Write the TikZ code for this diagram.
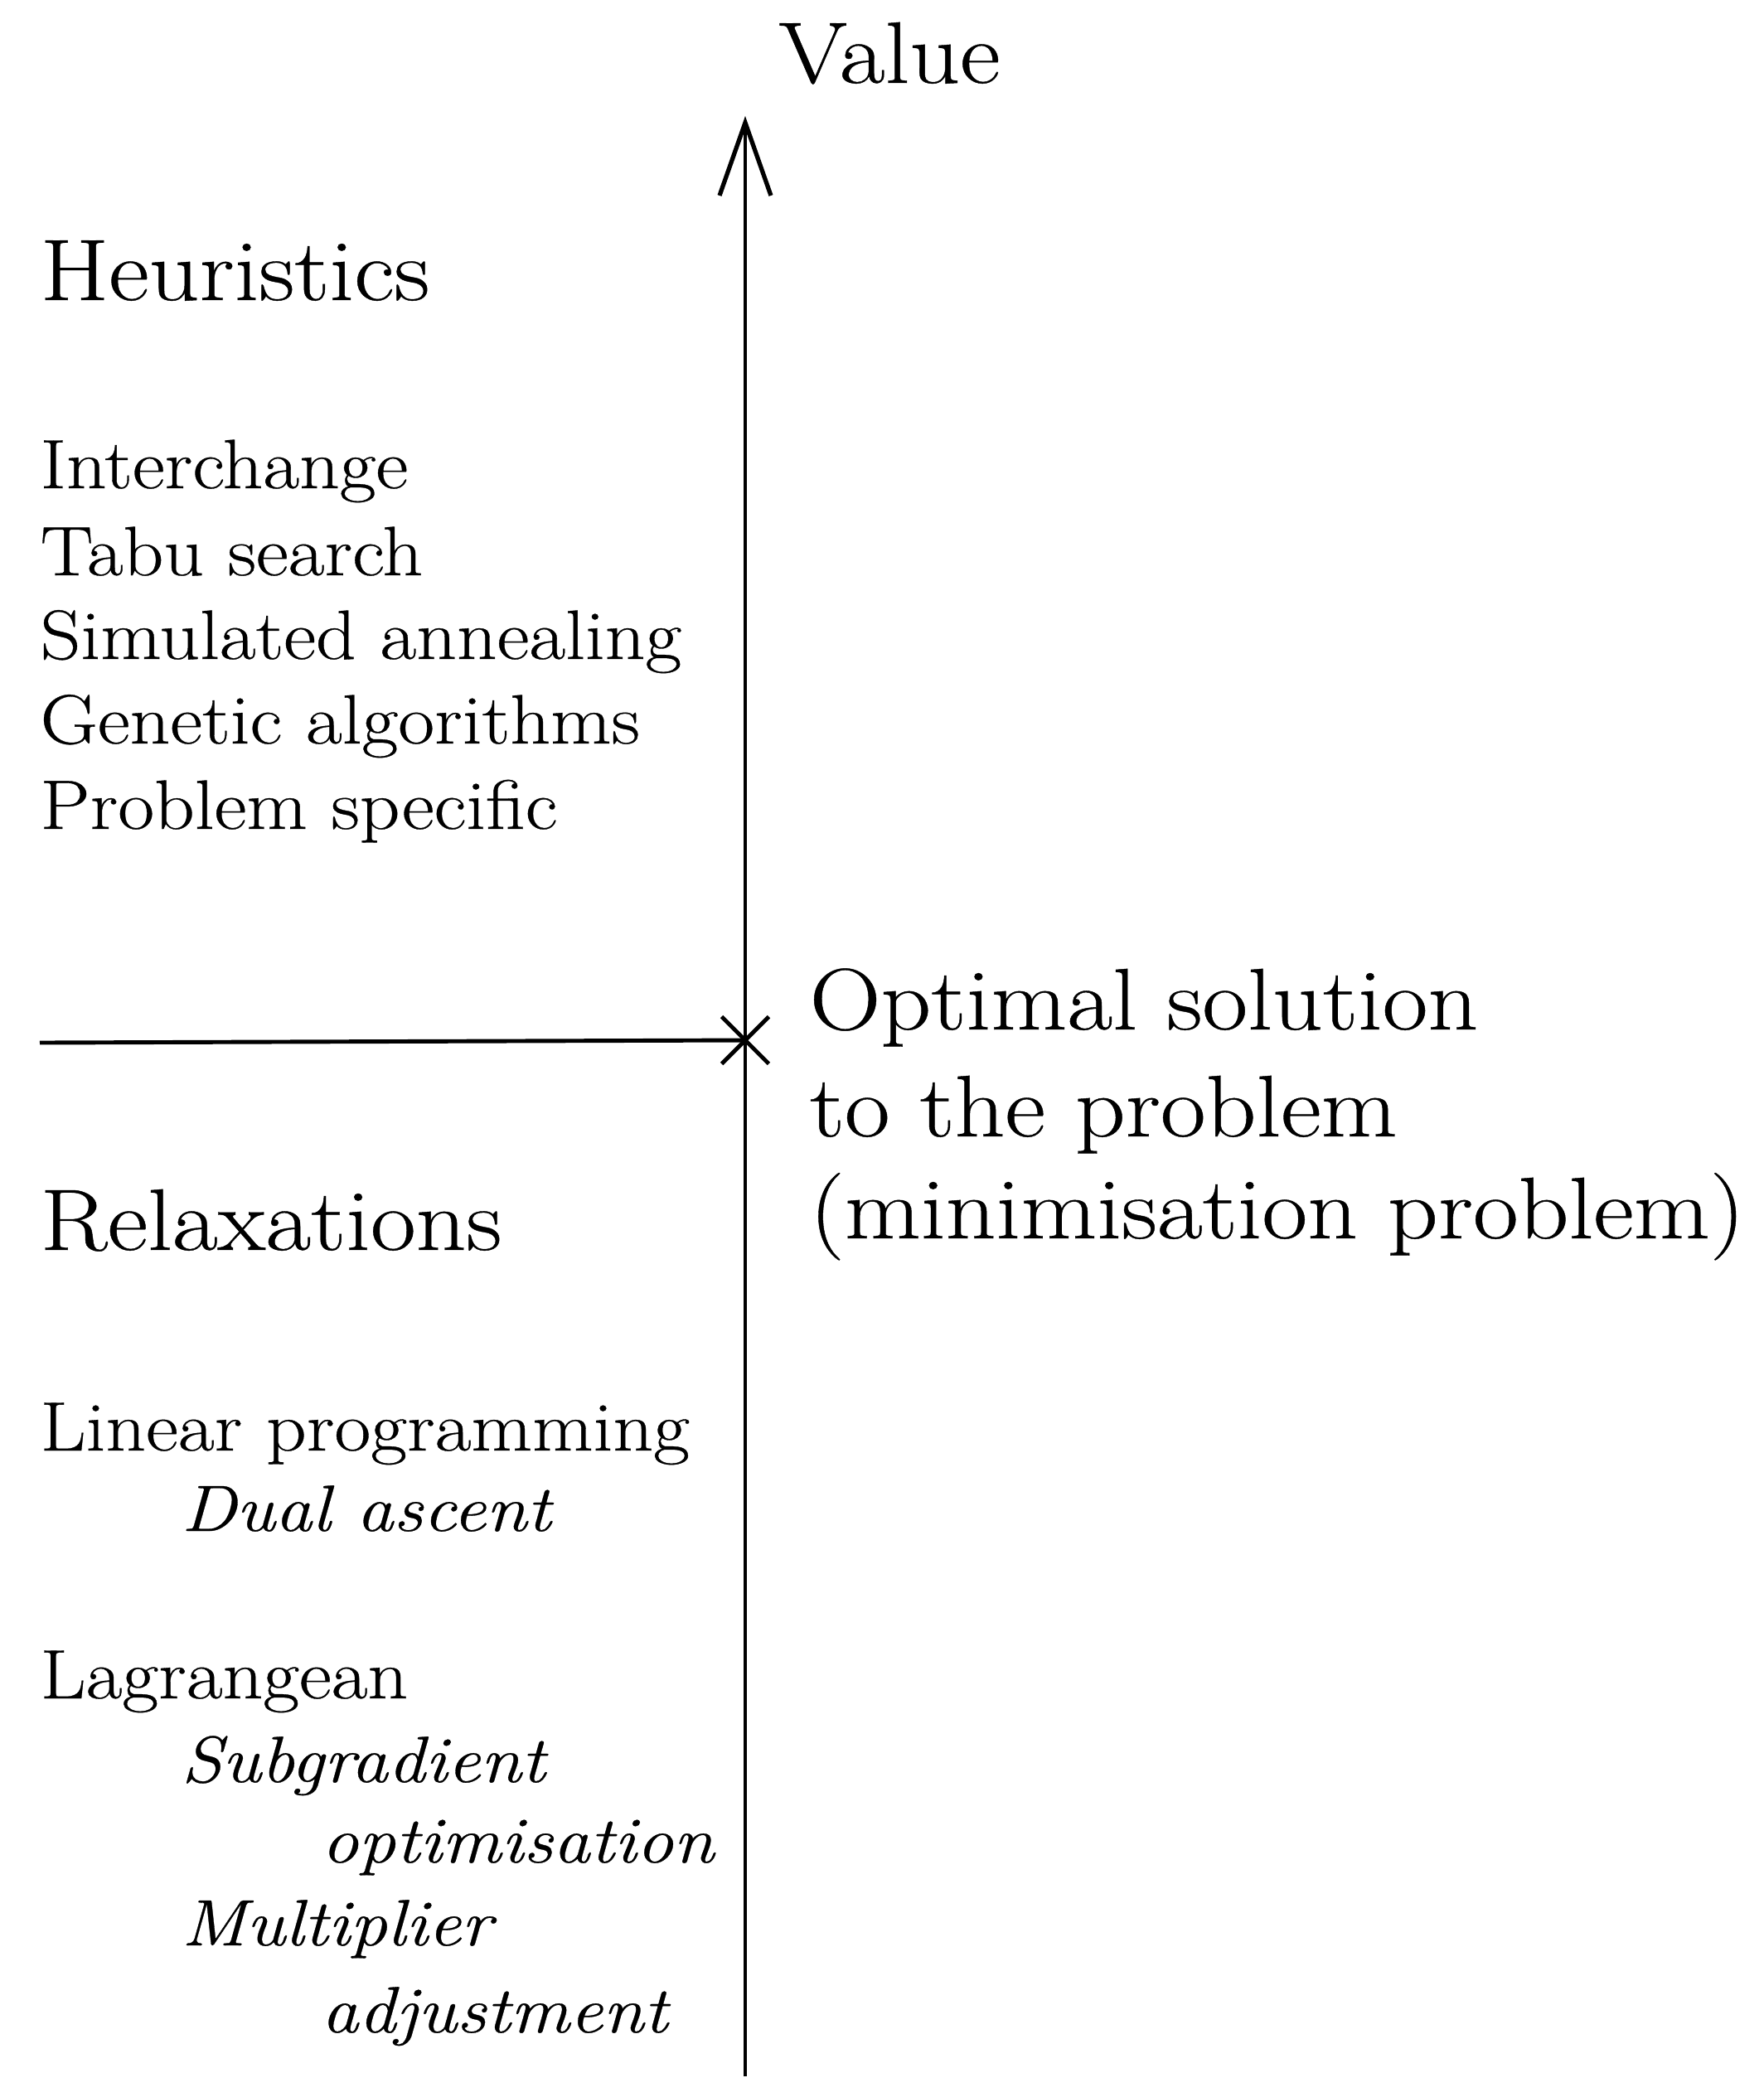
\documentclass[tikz,border=0pt]{standalone}
\usepackage{fontspec}
\setmainfont{Latin Modern Roman}[FakeStretch=1.13, FakeBold=0.4]
\usepackage{tikz}
\usetikzlibrary{arrows.meta,shapes.misc}

\begin{document}
\begin{tikzpicture}[
    big/.style={font=\fontsize{30}{36}\selectfont, inner sep=0pt, anchor=base west},
    lst/.style={font=\fontsize{24}{29}\selectfont, inner sep=0pt, anchor=base west},
    sub/.style={lst, font=\fontsize{22.5}{27}\selectfont\itshape},
    axis/.style={line width=1.4pt},
  ]
  \useasboundingbox (0,0) rectangle (21.28,-25.30);

  %% value axis
  \coordinate (axbot) at (8.99,-25.05);
  \coordinate (axtop) at (8.99,-1.40);
  \draw[axis, -{Straight Barb[length=0.88cm, width=0.62cm, line width=1.5pt]}] (axbot) -- (axtop);
  \node[big, anchor=base] (value) at (10.73,-1.00) {Value};

  %% optimum, with the line from the left
  \node[cross out, draw, line width=1.4pt, minimum size=0.52cm, inner sep=0pt] (opt) at (8.99,-12.55) {};
  \coordinate (lft) at (0.48,-12.58);
  \draw[axis] (lft) -- (opt.center);
  \node[big] (opt1) at (9.76,-12.42) {Optimal solution};
  \node[big] (opt2) at (9.76,-13.71) {to the problem};
  \node[big] (opt3) at (9.76,-14.94) {(minimisation problem)};

  %% heuristics, above the optimum
  \node[big] (heur) at (0.48,-3.62) {Heuristics};
  \foreach \i/\yy/\txt in {1/5.89/Interchange, 2/6.94/Tabu search,
      3/7.95/Simulated annealing, 4/8.97/Genetic algorithms,
      5/10.00/Problem specific}{
    \node[lst] (h\i) at (0.48,-\yy) {\txt};
  }

  %% relaxations, below the optimum
  \node[big] (relax) at (0.48,-15.08) {Relaxations};
  \node[lst] (lp) at (0.48,-17.50) {Linear programming};
  \node[sub] (dual) at (2.18,-18.47) {Dual ascent};
  \node[lst] (lag) at (0.48,-20.49) {Lagrangean};
  \node[sub] (subg) at (2.18,-21.50) {Subgradient};
  \node[sub] (subo) at (3.87,-22.47) {optimisation};
  \node[sub] (mult) at (2.18,-23.47) {Multiplier};
  \node[sub] (adj) at (3.87,-24.52) {adjustment};
\end{tikzpicture}
\end{document}
